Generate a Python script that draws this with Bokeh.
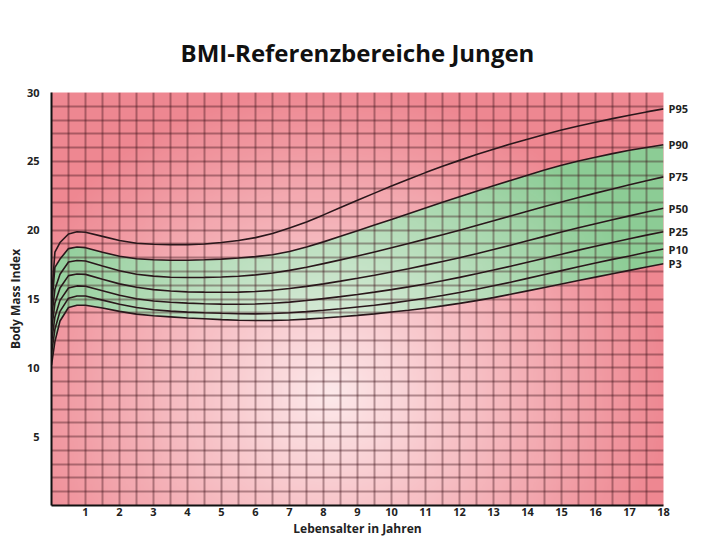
import numpy as np
from bokeh.plotting import figure
from bokeh.models import ColumnDataSource, FixedTicker, LinearAxis, Range1d
from bokeh.embed import file_html
from bokeh.resources import INLINE

# ---------------- data ----------------
ages = [0, 0.1, 0.25, 0.5, 0.75, 1, 1.5, 2, 2.5, 3, 3.5, 4, 4.5, 5, 5.5, 6, 6.5,
        7, 7.5, 8, 8.5, 9, 9.5, 10, 10.5, 11, 11.5, 12, 12.5, 13, 13.5, 14,
        14.5, 15, 15.5, 16, 16.5, 17, 17.5, 18]

p3 = [10.20, 11.90, 13.40, 14.38, 14.55, 14.55, 14.35, 14.10, 13.90, 13.78,
      13.70, 13.62, 13.56, 13.50, 13.46, 13.44, 13.45, 13.48, 13.54, 13.62,
      13.71, 13.81, 13.92, 14.05, 14.18, 14.33, 14.50, 14.68, 14.88, 15.10,
      15.34, 15.59, 15.84, 16.09, 16.34, 16.59, 16.84, 17.08, 17.32, 17.56]
p10 = [11.01, 12.80, 14.10, 15.06, 15.22, 15.22, 14.92, 14.62, 14.38, 14.22,
       14.12, 14.05, 14.00, 13.96, 13.93, 13.92, 13.95, 14.00, 14.08, 14.18,
       14.29, 14.42, 14.55, 14.70, 14.87, 15.05, 15.25, 15.47, 15.71, 15.96,
       16.22, 16.50, 16.78, 17.06, 17.34, 17.61, 17.88, 18.13, 18.39, 18.63]
p25 = [11.81, 13.70, 14.90, 15.80, 15.95, 15.93, 15.60, 15.27, 15.02, 14.86,
       14.76, 14.70, 14.66, 14.63, 14.62, 14.64, 14.69, 14.77, 14.89, 15.03,
       15.17, 15.33, 15.50, 15.68, 15.88, 16.09, 16.32, 16.57, 16.83, 17.10,
       17.38, 17.67, 17.96, 18.25, 18.55, 18.83, 19.11, 19.38, 19.64, 19.89]
p50 = [12.68, 14.70, 15.80, 16.70, 16.82, 16.79, 16.44, 16.10, 15.85, 15.68,
       15.58, 15.52, 15.50, 15.49, 15.50, 15.55, 15.63, 15.76, 15.92, 16.10,
       16.30, 16.51, 16.73, 16.96, 17.20, 17.46, 17.72, 18.00, 18.29, 18.59,
       18.91, 19.23, 19.55, 19.86, 20.17, 20.47, 20.76, 21.04, 21.32, 21.59]
p75 = [13.53, 15.70, 16.80, 17.69, 17.80, 17.76, 17.40, 17.05, 16.80, 16.66,
       16.58, 16.56, 16.57, 16.60, 16.65, 16.75, 16.89, 17.08, 17.31, 17.57,
       17.84, 18.12, 18.42, 18.72, 19.03, 19.35, 19.67, 20.00, 20.34, 20.68,
       21.03, 21.38, 21.72, 22.05, 22.38, 22.69, 22.99, 23.30, 23.59, 23.87]
p90 = [14.28, 17.30, 17.90, 18.66, 18.78, 18.73, 18.40, 18.10, 17.92, 17.85,
       17.82, 17.82, 17.85, 17.90, 17.98, 18.08, 18.22, 18.45, 18.78, 19.15,
       19.55, 19.96, 20.37, 20.78, 21.20, 21.61, 22.02, 22.42, 22.82, 23.22,
       23.61, 23.99, 24.37, 24.71, 25.02, 25.30, 25.56, 25.80, 26.01, 26.20]
p95 = [15.01, 18.40, 19.10, 19.72, 19.88, 19.85, 19.55, 19.25, 19.05, 18.98,
       18.95, 18.95, 19.00, 19.10, 19.25, 19.46, 19.76, 20.15, 20.60, 21.11,
       21.64, 22.17, 22.69, 23.20, 23.70, 24.18, 24.64, 25.07, 25.49, 25.88,
       26.26, 26.61, 26.95, 27.27, 27.57, 27.84, 28.10, 28.35, 28.59, 28.81]

curve_names = ["P95", "P90", "P75", "P50", "P25", "P10", "P3"]
x_ticks = list(range(0, 19))
y_ticks = [0, 5, 10, 15, 20, 25, 30]

# ---------------- figure ----------------
FONT = "Open Sans"
p = figure(width=691, height=541, output_backend="svg", toolbar_location=None,
           x_range=Range1d(0, 18), y_range=Range1d(0, 30),
           min_border_left=51, min_border_right=28, min_border_top=92,
           min_border_bottom=36, background_fill_color="#ee8791",
           border_fill_color="#ffffff", outline_line_color=None)

p.title.text = "BMI-Referenzbereiche Jungen"
p.title.align = "center"
p.title.text_font = FONT
p.title.text_font_size = "24px"
p.title.text_font_style = "bold"
p.title.text_color = "#111111"
p.title.standoff = 48

src = ColumnDataSource(dict(age=ages, p3=p3, p10=p10, p25=p25, p50=p50,
                            p75=p75, p90=p90, p95=p95))

# green reference band
band = p.varea(x="age", y1="p3", y2="p90", source=src, fill_color="#8ccc95")
band.level = "image"

# soft radial light in the middle of the chart
nx, ny = 240, 200
gx = np.linspace(0, 18, nx)
gy = np.linspace(0, 30, ny)
GX, GY = np.meshgrid(gx, gy)
r = np.sqrt(((GX - 8.2) * 34 / 340) ** 2 + ((GY - 8.0) * 13.7 / 310) ** 2)
alpha = np.clip(1 - r, 0, 1) ** 1.0 * 0.85
img = np.empty((ny, nx), dtype=np.uint32)
view = img.view(dtype=np.uint8).reshape((ny, nx, 4))
view[..., 0] = 255
view[..., 1] = 250
view[..., 2] = 250
view[..., 3] = (alpha * 255).astype(np.uint8)
glow = p.image_rgba(image=[img], x=0, y=0, dw=18, dh=30)
glow.level = "image"

# grid
p.xgrid.ticker = FixedTicker(ticks=[i * 0.5 for i in range(37)])
p.ygrid.ticker = FixedTicker(ticks=list(range(31)))
for g in (p.xgrid, p.ygrid):
    g.grid_line_color = "#3a1018"
    g.grid_line_alpha = 0.38
    g.grid_line_width = 2
    g.level = "underlay"

# percentile curves
for col in ["p95", "p90", "p75", "p50", "p25", "p10", "p3"]:
    p.line(x="age", y=col, source=src, line_color="#2a171b", line_width=1.6)

# curve names at the right end (as a label-only axis)
ends = [p95[-1], p90[-1], p75[-1], p50[-1], p25[-1], p10[-1], p3[-1]]
right_ax = LinearAxis(ticker=FixedTicker(ticks=ends),
                      major_label_overrides={v: n for v, n in zip(ends, curve_names)})
right_ax.axis_line_color = None
right_ax.major_tick_in = 0
right_ax.major_tick_out = 0
right_ax.minor_tick_in = 0
right_ax.minor_tick_out = 0
right_ax.major_label_standoff = 5
right_ax.major_label_text_font = FONT
right_ax.major_label_text_font_size = "11px"
right_ax.major_label_text_font_style = "bold"
right_ax.major_label_text_color = "#222222"
p.add_layout(right_ax, "right")

# axes
p.xaxis[0].ticker = FixedTicker(ticks=x_ticks)
p.xaxis[0].major_label_overrides = {0: ""}
p.yaxis[0].ticker = FixedTicker(ticks=y_ticks)
p.yaxis[0].major_label_overrides = {0: ""}
p.xaxis[0].axis_label = "Lebensalter in Jahren"
p.yaxis[0].axis_label = "Body Mass Index"
for ax in (p.xaxis[0], p.yaxis[0]):
    ax.axis_line_color = "#111111"
    ax.axis_line_width = 2
    ax.major_tick_in = 0
    ax.major_tick_out = 0
    ax.minor_tick_in = 0
    ax.minor_tick_out = 0
    ax.major_label_text_font = FONT
    ax.major_label_text_font_size = "11px"
    ax.major_label_text_font_style = "bold"
    ax.major_label_text_color = "#222222"
    ax.axis_label_text_font = FONT
    ax.axis_label_text_font_size = "12px"
    ax.axis_label_text_font_style = "bold"
    ax.axis_label_text_color = "#222222"
p.xaxis[0].major_label_standoff = 2
p.xaxis[0].axis_label_standoff = 1
p.yaxis[0].major_label_standoff = 12
p.yaxis[0].axis_label_standoff = 0

open("out.html", "w").write(file_html(p, INLINE))
